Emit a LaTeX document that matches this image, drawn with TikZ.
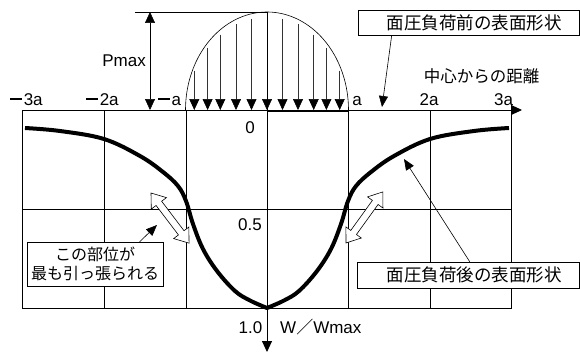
\documentclass[tikz,border=0pt]{standalone}
\usepackage{fontspec}
\setmainfont{Liberation Sans}
\newfontfamily\jp{Noto Sans CJK JP}
\usetikzlibrary{arrows.meta,calc}
\newcommand{\mns}{\rule[5.5pt]{12pt}{1.2pt}\hspace{1.5pt}}
\begin{document}
\begin{tikzpicture}[x=1pt,y=-1pt,
  gridline/.style={line width=0.9pt},
  tip/.style={-{Triangle[length=11pt,width=10pt]}},
  ptip/.style={black!80,line width=0.6pt,-{Triangle[length=11pt,width=10pt,black]}},
  leader/.style={line width=0.6pt,-{Triangle[length=11pt,width=9pt]}},
  lbl/.style={font=\fontsize{17}{20}\selectfont,inner sep=0pt},
  box/.style={draw,line width=0.6pt,fill=white,inner sep=0pt,font=\jp\fontsize{17.5}{20}\selectfont},
  surface/.style={line width=4pt,line join=round},
  hollow/.pic={\draw[fill=white,line width=0.6pt] (0,0) -- (13,-9.5) -- (13,-3.5) -- (50,-3.5) -- (50,-9.5) -- (63,0) -- (50,9.5) -- (50,3.5) -- (13,3.5) -- (13,9.5) -- cycle;}]
\useasboundingbox (0,0) rectangle (580,353);
\fill[white] (0,0) rectangle (580,353);
% grid
\coordinate (GL) at (22,110);
\coordinate (GR) at (511,308);
\draw[gridline] (GL) rectangle (GR);
\foreach \gx in {104,186,348,430} \draw[gridline] (\gx,110) -- (\gx,308);
\draw[gridline] (22,209) -- (511,209);
% axes
\coordinate (O) at (267,110);
\coordinate (XE) at (522,110);
\coordinate (YT) at (267,12);
\coordinate (YE) at (267,352);
\draw[gridline,tip] (GL) -- (XE);
\draw[gridline,tip] (YT) -- (YE);
% surface before loading (between 0 and a)
\coordinate (SA) at (267,111);
\coordinate (SB) at (348,111);
\draw[line width=1.8pt] (SA) -- (SB);
% pressure distribution
\draw[line width=0.6pt] plot[domain=180:0,samples=80] ({267+81.5*cos(\x)},{110-98*sin(\x)});
\coordinate (PT) at (135,12);
\draw[line width=0.6pt] (PT) -- (YT);
\foreach \d in {-72.7,-59.4,-46.7,-31,-15.5,15.5,31,46.7,59.4,72.7}
  \draw[ptip] ({267+\d},{110-98*sqrt(1-(\d/81.5)^2)+5}) -- ({267+\d},110);
\coordinate (C0) at (267,99);
\draw[ptip] (C0) -- (O);
\coordinate (PA) at (150,12);
\coordinate (PB) at (150,110);
\draw[line width=0.6pt,{Triangle[length=11pt,width=10pt]}-{Triangle[length=11pt,width=10pt]}] (PA) -- (PB);
\node[lbl,anchor=east] (pmax) at (146,61) {Pmax};
% axis labels
\node[lbl,anchor=base] (m3a) at (26.5,105) {\mns 3a};
\node[lbl,anchor=base] (m2a) at (102.5,105) {\mns 2a};
\node[lbl,anchor=base] (m1a) at (169.5,105) {\mns a};
\node[lbl,anchor=base] (p1a) at (357,105) {a};
\node[lbl,anchor=base] (p2a) at (429,105) {2a};
\node[lbl,anchor=base] (p3a) at (503.5,105) {3a};
\node[lbl,anchor=base] (v0) at (250,133) {0};
\node[lbl,anchor=base] (v05) at (250,230) {0.5};
\node[lbl,anchor=base] (v10) at (250.5,333) {1.0};
\node[lbl,anchor=base west] (wlab) at (280,333) {W{\jp ／}Wmax};
\node[lbl,font=\jp\fontsize{16.5}{20}\selectfont] (dist) at (481.5,76.5) {中心からの距離};
% deformed surface
\draw[surface] plot[smooth,tension=0.6] coordinates {(25,128) (60,131) (104,139) (140,156) (163,172) (178,186) (186,201) (193,224) (203,249) (217,271) (235,291) (250,300.5) (267,308)}
  -- plot[smooth,tension=0.6] coordinates {(267,308) (284,300.5) (299,291) (317,271) (331,249) (341,224) (348,201) (356,186) (371,172) (394,156) (430,139) (474,131) (509,128)};
% hollow double arrows
\pic[rotate=-52.8] at (151,193) {hollow};
\pic[rotate=54.2] at (346,243) {hollow};
% boxes
\node[box,minimum width=221pt,minimum height=25pt] (before) at (468.5,22.5) {\hspace{11pt}面圧負荷前の表面形状};
\node[box,minimum width=222pt,minimum height=26pt] (after) at (468,275) {\hspace{12pt}面圧負荷後の表面形状};
\node[box,minimum width=136pt,minimum height=44pt,align=center,font=\jp\fontsize{16}{19}\selectfont] (pull) at (95,264) {この部位が\\最も引っ張られる};
% leaders
\coordinate (tipA) at (382,107);
\coordinate (tipB) at (404,159);
\coordinate (tipC) at (157,225);
\draw[leader] ([xshift=34pt]before.south west) -- (tipA);
\draw[leader] ([xshift=113pt]after.north west) -- (tipB);
\draw[leader] ([xshift=113pt]pull.north west) -- (tipC);
\end{tikzpicture}
\end{document}
